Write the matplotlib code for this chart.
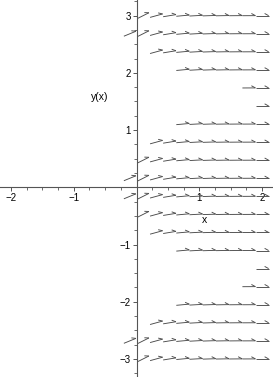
import numpy as np
import matplotlib
matplotlib.use("Agg")
import matplotlib.pyplot as plt
from matplotlib.collections import LineCollection
from matplotlib.ticker import MultipleLocator, FixedLocator

# ---- data ----
# grid columns (x) and rows (y) of the direction field
grid_x = list(np.linspace(-2, 2, 20))
grid_y = list(np.linspace(-3, 3, 20))
# first column index (into grid_x) that carries an arrow, for each row (bottom->top)
row_start = [10, 9, 11, 13, 18, 19, 13, 11, 10, 9,
             9, 10, 11, 13, 19, 18, 13, 11, 9, 10]
# slope dy/dx of the arrows per column (columns with index < 9 never have arrows)
col_slope = [0, 0, 0, 0, 0, 0, 0, 0, 0,
             0.45, 0.55, 0.30, 0.18, 0.10, 0.06, 0.035, 0.02, 0.01, 0.005, 0.0]

x_ticks = [-2, -1, 1, 2]
y_ticks = [-3, -2, -1, 1, 2, 3]

# ---- figure ----
W, H = 273, 377
dpi = 100
fig = plt.figure(figsize=(W / dpi, H / dpi), dpi=dpi)
ax = fig.add_axes([0, 0, 1, 1])
xmin, xmax = -2.173, 2.173
ymin, ymax = -3.316, 3.274
ax.set_xlim(xmin, xmax)
ax.set_ylim(ymin, ymax)

kx = W / (xmax - xmin)   # px per data unit
ky = H / (ymax - ymin)

L = 13.0      # arrow length in px
barb_back = 4.0
barb_side = 2.2

segs = []
for j, yr in enumerate(grid_y):
    for i, xc in enumerate(grid_x):
        if i < row_start[j]:
            continue
        s = col_slope[i]
        ux, uy = 1.0, s * ky / kx
        n = np.hypot(ux, uy)
        ux, uy = ux / n, uy / n
        x0 = xc - ux * L / 2 / kx
        y0 = yr - uy * L / 2 / ky
        x1 = xc + ux * L / 2 / kx
        y1 = yr + uy * L / 2 / ky
        segs.append([(x0, y0), (x1, y1)])
        bx = x1 + (-ux * barb_back - uy * barb_side) / kx
        by = y1 + (-uy * barb_back + ux * barb_side) / ky
        segs.append([(bx, by), (x1, y1)])

ax.add_collection(LineCollection(segs, colors="#4a4a4a", linewidths=0.65))

# axes through origin
for side in ("top", "right"):
    ax.spines[side].set_visible(False)
ax.spines["left"].set_position(("data", 0))
ax.spines["bottom"].set_position(("data", 0))
for side in ("left", "bottom"):
    ax.spines[side].set_linewidth(0.8)
    ax.spines[side].set_color("#555555")

ax.xaxis.set_major_locator(FixedLocator(x_ticks))
ax.yaxis.set_major_locator(FixedLocator(y_ticks))
ax.xaxis.set_minor_locator(MultipleLocator(0.25))
ax.yaxis.set_minor_locator(MultipleLocator(0.25))
ax.tick_params(which="major", direction="out", length=3, width=0.7,
               color="#555555", labelsize=7, pad=1)
ax.tick_params(which="minor", direction="out", length=2, width=0.6,
               color="#555555")
ax.set_xticklabels([str(t) if t >= 0 else "\u2212" + str(-t) for t in x_ticks])
ax.set_yticklabels([str(t) if t >= 0 else "\u2212" + str(-t) for t in y_ticks])
for lab in ax.get_xticklabels() + ax.get_yticklabels():
    lab.set_fontfamily("Liberation Sans")

ax.text(204 / W, 1 - 220 / H, "x", transform=ax.transAxes, ha="center",
        va="center", fontsize=7.5, family="Liberation Sans")
ax.text(100 / W, 1 - 97 / H, "y(x)", transform=ax.transAxes, ha="center",
        va="center", fontsize=7.5, family="Liberation Sans")

ax.patch.set_facecolor("white")
fig.savefig("out.png", dpi=dpi, facecolor="white")
